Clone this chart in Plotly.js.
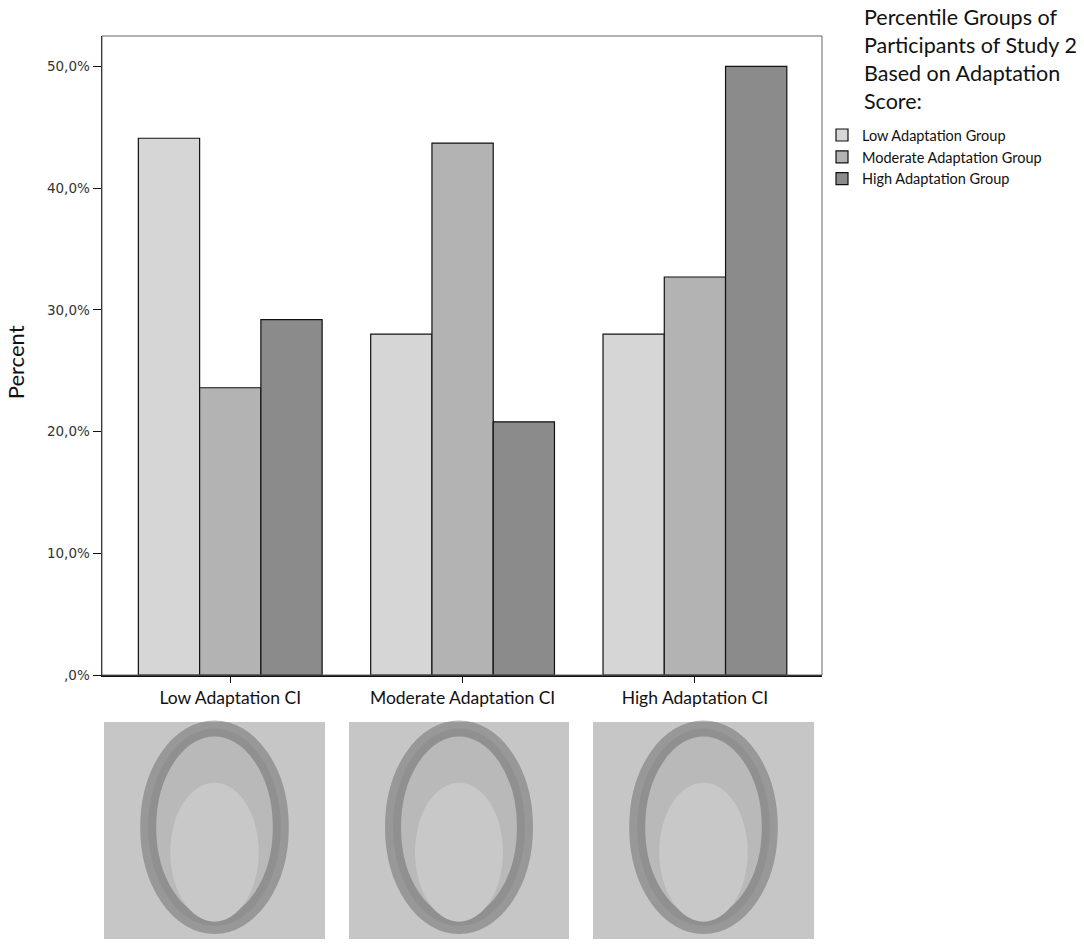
<!DOCTYPE html>
<html>
<head>
<meta charset="utf-8">
<script src="https://cdn.plot.ly/plotly-3.0.1.min.js"></script>
<style>
body { margin: 0; background: #fff; }
#chart { width: 1084px; height: 950px; }
</style>
</head>
<body>
<div id="chart"></div>
<script>
// categories on the x axis
var categories = ['Low Adaptation CI', 'Moderate Adaptation CI', 'High Adaptation CI']
// percent of each participant group per CI
var lowGroup = [44.1, 28.0, 28.0]
var moderateGroup = [23.6, 43.7, 32.7]
var highGroup = [29.2, 20.8, 50.0]
var seriesNames = ['Low Adaptation Group', 'Moderate Adaptation Group', 'High Adaptation Group']
var tickValues = [0, 10, 20, 30, 40, 50]
var tickLabels = [',0%', '10,0%', '20,0%', '30,0%', '40,0%', '50,0%']

var colors = ['#d6d6d6', '#b3b3b3', '#8b8b8b']
var allSeries = [lowGroup, moderateGroup, highGroup]

var data = []
for (var i = 0; i < allSeries.length; i++) {
	data.push({
		x: categories,
		y: allSeries[i],
		name: seriesNames[i],
		type: 'bar',
		marker: {color: colors[i], line: {color: '#111', width: 1.2}},
		hoverinfo: 'none'
	})
}

// plain frame + placeholder boxes for the face images under each category
var shapes = [
	{type: 'rect', xref: 'paper', yref: 'paper', x0: 0, x1: 1, y0: 0, y1: 1,
		line: {color: '#666', width: 1}}
]
var faceBoxes = [[104, 325], [349, 569], [593, 814]]
faceBoxes.forEach(function (b) {
	var x0 = (b[0] - 102) / 720, x1 = (b[1] - 102) / 720
	var y0 = (675 - 939) / 639, y1 = (675 - 722) / 639
	var w = x1 - x0, h = y1 - y0
	shapes.push({type: 'rect', xref: 'paper', yref: 'paper', x0: x0, x1: x1, y0: y0, y1: y1,
		fillcolor: '#c6c6c6', line: {width: 0}, layer: 'above'})
	shapes.push({type: 'circle', xref: 'paper', yref: 'paper',
		x0: x0 + w * 0.2, x1: x1 - w * 0.2, y0: y0 + h * 0.06, y1: y1 - h * 0.03,
		fillcolor: '#b9b9b9', line: {color: 'rgba(95,95,95,0.45)', width: 16}, layer: 'above'})
	shapes.push({type: 'circle', xref: 'paper', yref: 'paper',
		x0: x0 + w * 0.3, x1: x1 - w * 0.3, y0: y0 + h * 0.08, y1: y1 - h * 0.28,
		fillcolor: '#c8c8c8', line: {width: 0}, layer: 'above'})
})

var layout = {
	width: 1084,
	height: 950,
	margin: {l: 102, r: 262, t: 36, b: 275},
	paper_bgcolor: '#fff',
	plot_bgcolor: '#fff',
	barmode: 'group',
	bargap: 0.209,
	bargroupgap: 0,
	font: {family: 'Lato, sans-serif', color: '#111'},
	xaxis: {
		range: [-0.552, 2.547],
		showline: true, linecolor: '#111', linewidth: 1.5,
		ticks: 'outside', ticklen: 6, tickcolor: '#111',
		tickfont: {family: 'Lato, sans-serif', size: 17.5, color: '#111'},
		showgrid: false, zeroline: false, fixedrange: true
	},
	yaxis: {
		range: [0, 52.5],
		tickvals: tickValues, ticktext: tickLabels,
		showline: true, linecolor: '#111', linewidth: 1.5,
		ticks: 'outside', ticklen: 8, tickcolor: '#111',
		tickfont: {family: 'DejaVu Sans, sans-serif', size: 13.5, color: '#333'},
		showgrid: false, zeroline: false, fixedrange: true
	},
	showlegend: true,
	legend: {
		x: 1.0, xanchor: 'left', y: 0.87, yanchor: 'top',
		font: {family: 'Lato, sans-serif', size: 14.5, color: '#111'},
		bgcolor: 'rgba(0,0,0,0)', tracegroupgap: 0
	},
	annotations: [
		{xref: 'paper', yref: 'paper', x: 1.0556, y: 1.053, xanchor: 'left', yanchor: 'top',
			align: 'left', showarrow: false,
			text: 'Percentile Groups of<br>Participants of Study 2<br>Based on Adaptation<br>Score:',
			font: {family: 'Lato, sans-serif', size: 21.5, color: '#111'}},
		{xref: 'paper', yref: 'paper', x: -0.119, y: 0.49, xanchor: 'center', yanchor: 'middle',
			textangle: -90, showarrow: false, text: 'Percent',
			font: {family: 'Lato, sans-serif', size: 22, color: '#111'}}
	],
	shapes: shapes
}

Plotly.newPlot('chart', data, layout, {displayModeBar: false, staticPlot: true})
</script>
</body>
</html>
